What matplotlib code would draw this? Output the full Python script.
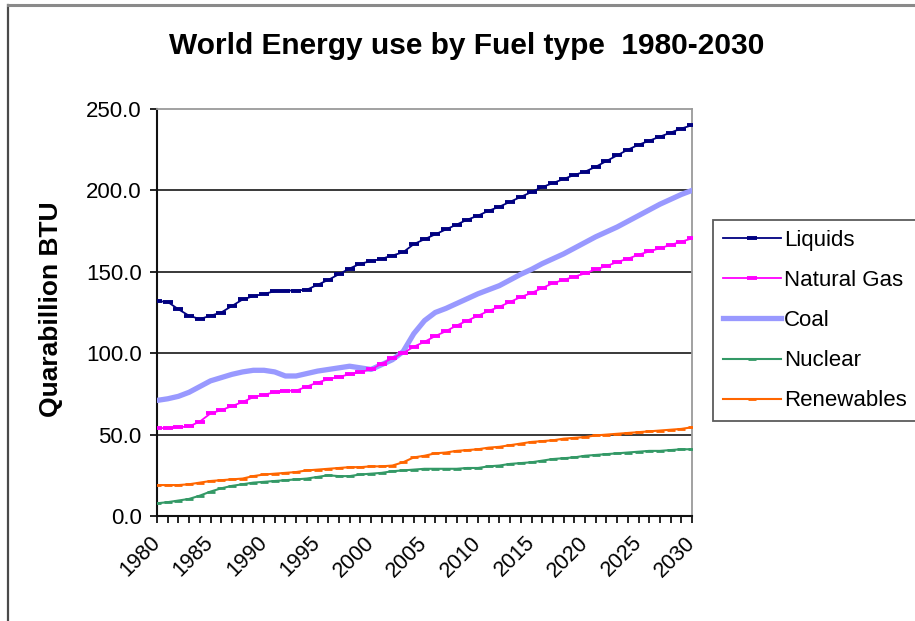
import matplotlib
matplotlib.use("Agg")
import matplotlib.pyplot as plt
from matplotlib.lines import Line2D

plt.rcParams['font.family'] = ['Liberation Sans', 'DejaVu Sans']

years = list(range(1980, 2031))

liquids = [132, 131.5, 127, 123, 121, 123, 125, 129, 133, 135,
           136.5, 138, 138.5, 138.5, 139, 142, 145, 148.5, 152, 155,
           156.5, 158, 160, 162, 167, 170, 173, 176, 179, 182,
           184.5, 187.5, 190, 193, 196, 199, 202, 204.5, 207, 209.5,
           211.5, 214.5, 218, 221.5, 225, 228, 230.5, 233, 235.5, 238, 240]

natural_gas = [54, 54, 54.5, 55, 58, 63, 65, 67.5, 70, 73,
               74.5, 76, 77, 77, 79.5, 82, 84, 85.5, 87, 88.5,
               90, 93.5, 97, 100, 104, 107, 110.5, 113.5, 117, 120,
               123, 126, 128.5, 131.5, 134.5, 137, 140, 143, 145, 147,
               149, 151.5, 153.5, 156, 158, 160.5, 162.5, 164.5, 166.5, 168.5, 170.5]

coal = [71, 72, 73.5, 76, 79.5, 83, 85, 87, 88.5, 89.5,
        89.5, 88.5, 86, 86, 87.5, 89, 90, 91, 92, 91,
        90, 93, 96, 101, 112, 120, 125, 127.5, 130.5, 133.5,
        136.5, 139, 141.5, 145, 148.5, 151.5, 155, 158, 161, 164.5,
        168, 171.5, 174.5, 177.5, 181, 184.5, 188, 191.5, 194.5, 197.5, 200]

nuclear = [7.8, 8.5, 9.5, 10.5, 12.5, 15, 17, 18.5, 19.5, 20.5,
           21, 21.5, 22, 22.5, 23, 24, 25, 24.5, 24.5, 25.5,
           26, 26.5, 27.5, 28, 28.5, 29, 29, 29, 29, 29.5,
           29.5, 30.5, 31, 32, 32.5, 33, 34, 35, 35.5, 36,
           37, 37.5, 38, 38.5, 39, 39.5, 40, 40, 40.5, 41, 41]

renewables = [19, 19, 19, 19.5, 20.5, 21.5, 22, 22.5, 23, 24.5,
              25.5, 26, 26.5, 27, 28, 28.5, 29, 29.5, 30, 30,
              30.5, 30.5, 31, 33, 36, 37, 38.5, 39, 40, 40.5,
              41, 42, 42.5, 43.5, 44.5, 45.5, 46, 46.5, 47.5, 48,
              48.5, 49.5, 50, 50.5, 51, 51.5, 52, 52.5, 53, 53.5, 54.5]

series_names = ["Liquids", "Natural Gas", "Coal", "Nuclear", "Renewables"]
y_ticks = [0, 50, 100, 150, 200, 250]
title = "World Energy use by Fuel type  1980-2030"
y_label = "Quarabillion BTU"

W, H = 915, 621
fig = plt.figure(figsize=(W / 100, H / 100), dpi=100)
fig.patch.set_facecolor('white')

# chart-area border
fig.add_artist(Line2D([8 / W, 8 / W], [0, 1 - 5 / H], transform=fig.transFigure,
                      color='#4a4a4a', lw=1.6))
fig.add_artist(Line2D([8 / W, 1], [1 - 5 / H, 1 - 5 / H], transform=fig.transFigure,
                      color='#8a8a8a', lw=2.2))

ax = fig.add_axes([157 / W, 1 - 516 / H, (692 - 157) / W, (516 - 109) / H])

for v in y_ticks[1:-1]:
    ax.axhline(v, color='#2a2a2a', lw=1.3, zorder=1)

ax.plot(years, liquids, color='#000080', lw=1.3, marker='_', ms=7, mew=2.8,
        label=series_names[0], zorder=5)
ax.plot(years, natural_gas, color='#FF00FF', lw=1.3, marker='_', ms=7, mew=2.8,
        label=series_names[1], zorder=4)
ax.plot(years, coal, color='#9999FF', lw=3.8, label=series_names[2], zorder=3)
ax.plot(years, nuclear, color='#339966', lw=1.5, marker='_', ms=6, mew=2.0,
        label=series_names[3], zorder=3)
ax.plot(years, renewables, color='#FF6600', lw=1.5, marker='_', ms=6, mew=2.0,
        label=series_names[4], zorder=3)

ax.set_xlim(1980, 2030)
ax.set_ylim(0, 250)
ax.set_yticks(y_ticks)
ax.set_yticklabels([f"{v:.1f}" for v in y_ticks], fontsize=16)
ax.set_xticks(years)
ax.set_xticklabels([str(y) if y % 5 == 0 else '' for y in years], fontsize=15.5,
                   rotation=45, ha='right', va='center', rotation_mode='anchor')
ax.tick_params(axis='x', length=5, width=1.2, direction='out', pad=12)
ax.tick_params(axis='y', length=5, width=1.2, direction='out', pad=6)

for s in ['left', 'bottom']:
    ax.spines[s].set_color('#111111')
    ax.spines[s].set_linewidth(1.5)
for s in ['top', 'right']:
    ax.spines[s].set_color('#9a9a9a')
    ax.spines[s].set_linewidth(1.3)

fig.text(467 / W, 1 - 46 / H, title, fontsize=21.5, fontweight='bold',
         ha='center', va='center')
fig.text(51 / W, 1 - 309 / H, y_label, fontsize=19, fontweight='bold',
         rotation=90, ha='center', va='center')

leg = ax.legend(loc='upper left', bbox_to_anchor=(713 / W, 1 - 220 / H),
                bbox_transform=fig.transFigure, fontsize=16, frameon=True,
                fancybox=False, edgecolor='#333333', handlelength=2.6,
                handletextpad=0.15, labelspacing=0.86, borderpad=0.45,
                borderaxespad=0)
leg.get_frame().set_linewidth(1.3)

fig.savefig('out.png', dpi=100)
